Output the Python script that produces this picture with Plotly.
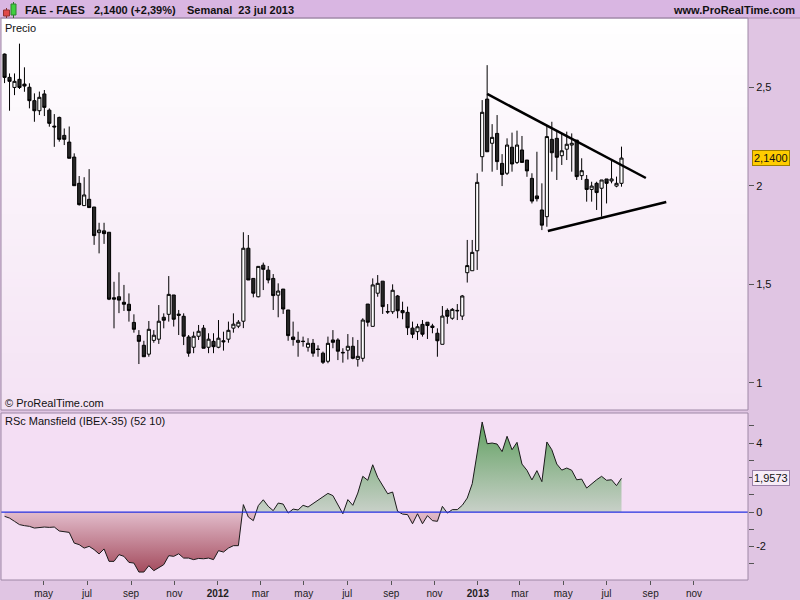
import pandas as pd
import plotly.graph_objects as go

# ---------------- data (weekly candles, FAES, ProRealTime) ----------------
START = "2011-03-07"

OPEN = [
    2.667, 2.549, 2.498, 2.539, 2.515, 2.499, 2.431, 2.380, 2.465, 2.383,
    2.302, 2.346, 2.255, 2.221, 2.145, 2.012, 1.899, 1.931, 1.892, 1.762,
    1.771, 1.764, 1.432, 1.437, 1.409, 1.399, 1.307, 1.241, 1.191, 1.146,
    1.216, 1.222, 1.333, 1.348, 1.446, 1.349, 1.338, 1.233, 1.181, 1.237,
    1.278, 1.181, 1.211, 1.181, 1.214, 1.222, 1.278, 1.288, 1.313, 1.683,
    1.530, 1.437, 1.597, 1.572, 1.530, 1.445, 1.476, 1.370, 1.233, 1.206,
    1.212, 1.181, 1.201, 1.172, 1.151, 1.110, 1.218, 1.218, 1.155, 1.166,
    1.186, 1.120, 1.125, 1.400, 1.287, 1.455, 1.516, 1.362, 1.361, 1.441,
    1.367, 1.358, 1.278, 1.260, 1.297, 1.308, 1.289, 1.252, 1.196, 1.368,
    1.328, 1.368, 1.339, 1.559, 1.569, 1.670, 2.147, 2.439, 2.215, 2.265,
    2.113, 2.063, 2.195, 2.118, 2.181, 2.130, 2.037, 1.948, 1.877, 1.843,
    2.235, 2.240, 2.152, 2.185, 2.206, 2.231, 2.051, 2.032, 1.981, 2.012,
    1.987, 2.034, 2.024, 1.998, 2.012]

HIGH = [
    2.670, 2.569, 2.569, 2.720, 2.600, 2.519, 2.468, 2.477, 2.485, 2.392,
    2.363, 2.350, 2.290, 2.300, 2.164, 2.049, 2.043, 2.084, 1.892, 1.812,
    1.812, 1.764, 1.513, 1.561, 1.497, 1.454, 1.348, 1.268, 1.214, 1.314,
    1.268, 1.395, 1.353, 1.542, 1.446, 1.370, 1.353, 1.243, 1.260, 1.294,
    1.294, 1.252, 1.252, 1.319, 1.260, 1.311, 1.353, 1.319, 1.764, 1.750,
    1.530, 1.591, 1.610, 1.593, 1.552, 1.505, 1.476, 1.370, 1.311, 1.260,
    1.235, 1.227, 1.223, 1.191, 1.159, 1.235, 1.268, 1.227, 1.176, 1.248,
    1.232, 1.218, 1.328, 1.400, 1.530, 1.547, 1.516, 1.400, 1.500, 1.446,
    1.412, 1.387, 1.311, 1.300, 1.319, 1.308, 1.300, 1.277, 1.390, 1.378,
    1.380, 1.400, 1.446, 1.725, 1.725, 2.063, 2.434, 2.611, 2.312, 2.358,
    2.160, 2.240, 2.269, 2.279, 2.252, 2.130, 2.063, 2.172, 2.012, 2.307,
    2.324, 2.273, 2.265, 2.274, 2.265, 2.231, 2.139, 2.054, 2.020, 2.020,
    2.029, 2.034, 2.125, 2.046, 2.198]

LOW = [
    2.520, 2.380, 2.459, 2.490, 2.476, 2.392, 2.324, 2.358, 2.353, 2.299,
    2.197, 2.223, 2.206, 2.139, 2.000, 1.899, 1.899, 1.889, 1.700, 1.657,
    1.705, 1.420, 1.277, 1.354, 1.365, 1.311, 1.255, 1.096, 1.133, 1.133,
    1.204, 1.198, 1.277, 1.311, 1.286, 1.243, 1.192, 1.133, 1.151, 1.218,
    1.176, 1.151, 1.151, 1.176, 1.164, 1.204, 1.255, 1.278, 1.278, 1.522,
    1.434, 1.434, 1.471, 1.505, 1.370, 1.333, 1.350, 1.214, 1.189, 1.133,
    1.184, 1.159, 1.133, 1.133, 1.096, 1.100, 1.176, 1.116, 1.103, 1.119,
    1.120, 1.083, 1.108, 1.286, 1.287, 1.437, 1.350, 1.350, 1.350, 1.328,
    1.323, 1.243, 1.227, 1.218, 1.235, 1.223, 1.252, 1.133, 1.196, 1.300,
    1.320, 1.319, 1.319, 1.509, 1.569, 1.573, 2.071, 2.172, 2.071, 2.080,
    1.998, 2.054, 2.071, 2.110, 2.118, 2.045, 1.910, 1.920, 1.775, 1.792,
    2.071, 2.029, 2.105, 2.130, 2.071, 2.029, 2.029, 1.919, 1.919, 1.877,
    1.843, 1.910, 2.012, 1.992, 1.995]

CLOSE = [
    2.549, 2.529, 2.529, 2.498, 2.505, 2.431, 2.380, 2.448, 2.397, 2.316,
    2.298, 2.235, 2.235, 2.139, 2.000, 1.904, 1.953, 1.889, 1.747, 1.775,
    1.757, 1.425, 1.425, 1.420, 1.399, 1.367, 1.272, 1.211, 1.133, 1.272,
    1.242, 1.313, 1.318, 1.449, 1.323, 1.343, 1.237, 1.151, 1.237, 1.262,
    1.176, 1.222, 1.184, 1.227, 1.209, 1.267, 1.298, 1.308, 1.683, 1.522,
    1.455, 1.591, 1.576, 1.522, 1.443, 1.466, 1.375, 1.240, 1.220, 1.216,
    1.210, 1.201, 1.151, 1.170, 1.105, 1.201, 1.206, 1.161, 1.153, 1.186,
    1.125, 1.135, 1.319, 1.308, 1.497, 1.505, 1.387, 1.360, 1.470, 1.366,
    1.356, 1.280, 1.247, 1.285, 1.247, 1.291, 1.281, 1.214, 1.339, 1.338,
    1.373, 1.366, 1.441, 1.595, 1.662, 2.017, 2.372, 2.172, 2.245, 2.122,
    2.057, 2.206, 2.110, 2.206, 2.118, 2.075, 1.922, 1.934, 1.800, 2.249,
    2.167, 2.144, 2.177, 2.210, 2.215, 2.046, 2.076, 1.981, 1.998, 1.965,
    2.029, 2.012, 2.034, 2.012, 2.140]

RSC = [
    -0.25, -0.35, -0.54, -0.73, -0.79, -0.83, -0.93, -0.89, -0.87, -0.89,
    -0.87, -1.10, -1.12, -1.18, -1.80, -1.89, -2.09, -1.99, -2.18, -2.43,
    -2.14, -2.86, -2.86, -2.47, -2.57, -2.92, -2.96, -3.48, -3.48, -3.11,
    -3.40, -3.21, -3.05, -2.53, -2.57, -2.42, -2.67, -2.67, -2.76, -2.69,
    -2.71, -2.67, -2.76, -2.24, -2.32, -2.09, -1.95, -1.95, 0.43, -0.29,
    -0.50, 0.37, 0.71, 0.33, 0.08, 0.52, 0.46, -0.06, 0.17, 0.12,
    0.39, 0.29, 0.50, 0.70, 0.87, 1.08, 0.95, 0.43, -0.10, 0.72,
    0.39, 1.10, 2.07, 1.84, 2.74, 2.01, 1.57, 1.06, 1.16, 0.04,
    -0.12, -0.15, -0.68, -0.10, -0.68, -0.21, -0.50, -0.54, 0.33, -0.06,
    0.14, 0.14, 0.39, 0.81, 1.64, 3.38, 5.22, 3.96, 4.00, 3.94,
    3.50, 4.39, 3.61, 4.04, 2.78, 2.42, 1.86, 2.40, 1.76, 4.06,
    3.61, 2.78, 2.43, 2.55, 2.42, 1.87, 1.91, 1.39, 1.64, 1.87,
    2.07, 1.84, 1.87, 1.53, 1.9573]

MONTH_TICKS = ["2011-05-01", "2011-07-01", "2011-09-01", "2011-11-01",
               "2012-01-01", "2012-03-01", "2012-05-01", "2012-07-01",
               "2012-09-01", "2012-11-01", "2013-01-01", "2013-03-01",
               "2013-05-01", "2013-07-01", "2013-09-01", "2013-11-01"]
MONTH_LABELS = ["may", "jul", "sep", "nov", "<b>2012</b>", "mar", "may", "jul",
                "sep", "nov", "<b>2013</b>", "mar", "may", "jul", "sep", "nov"]

PRICE_TICKS = [1, 1.5, 2, 2.5]
PRICE_LABELS = ["1", "1,5", "2", "2,5"]
RSC_TICKS = [-3, -2, -1, 0, 1, 2, 3, 4, 5]
RSC_LABELS = ["", "-2", "", "0", "", "", "", "4", ""]

# triangle drawn on the chart (week offset from START, price)
TREND_UP_WEEKS = [97.0, 128.9]
TREND_UP_PRICES = [2.465, 2.039]
TREND_LO_WEEKS = [109.2, 133.0]
TREND_LO_PRICES = [1.770, 1.917]

LAST_PRICE_LABEL = "2,1400"
LAST_RSC_LABEL = "1,9573"

# ---------------- layout geometry ----------------
W, H = 800, 600
ML, MR, MT, MB = 1, 52, 18, 20
PW = W - ML - MR
PH = H - MT - MB
X_RANGE = ["2011-03-02", "2014-01-16"]
Y_RANGE = [0.863, 2.850]
Y2_RANGE = [-3.94, 5.74]


def px(xp):
    return (xp - ML) / PW


def py(yp):
    return (H - MB - yp) / PH


FONT = "Liberation Sans, Arial, sans-serif"
PAPER = "#E0C5E3"

dates = pd.date_range(START, periods=len(OPEN), freq="7D")
start_ts = pd.Timestamp(START)


def wk(w):
    return start_ts + pd.to_timedelta(w * 7, unit="D")


def mix(c0, c1, t):
    return "rgb(%d,%d,%d)" % tuple(round(a + (b - a) * t) for a, b in zip(c0, c1))


fig = go.Figure()

fig.add_trace(go.Candlestick(
    x=dates, open=OPEN, high=HIGH, low=LOW, close=CLOSE,
    increasing=dict(line=dict(color="#000000", width=1), fillcolor="#FFFFFF"),
    decreasing=dict(line=dict(color="#000000", width=1), fillcolor="#262626"),
    whiskerwidth=0, showlegend=False, xaxis="x", yaxis="y"))

fig.add_trace(go.Scatter(
    x=[wk(w) for w in TREND_UP_WEEKS], y=TREND_UP_PRICES, mode="lines",
    line=dict(color="#000000", width=2.5), showlegend=False, hoverinfo="skip",
    xaxis="x", yaxis="y"))
fig.add_trace(go.Scatter(
    x=[wk(w) for w in TREND_LO_WEEKS], y=TREND_LO_PRICES, mode="lines",
    line=dict(color="#000000", width=2.5), showlegend=False, hoverinfo="skip",
    xaxis="x", yaxis="y"))

# RSC Mansfield area
g0, g1 = -3.6, 5.3
z = (0 - g0) / (g1 - g0)
fig.add_trace(go.Scatter(
    x=dates, y=RSC, mode="lines", fill="tozeroy",
    line=dict(color="#1A1A1A", width=1),
    fillgradient=dict(type="vertical",
                      colorscale=[[0, "#A2485A"], [z, "#E2BCCB"],
                                  [z + 0.0005, "#C8D0C8"], [1, "#5E9F5E"]],
                      start=g0, stop=g1),
    showlegend=False, hoverinfo="skip", xaxis="x2", yaxis="y2"))

shapes = []
# price panel vertical gradient (bands, drawn below the candles)
NB = 48
bot, top = (244, 226, 244), (255, 255, 255)
for i in range(NB):
    shapes.append(dict(type="rect", xref="x domain", yref="y domain",
                       x0=0, x1=1, y0=i / NB, y1=(i + 1) / NB + 0.002,
                       fillcolor=mix(bot, top, (i + 0.5) / NB),
                       line=dict(width=0), layer="below"))
shapes += [
    # header bar
    dict(type="rect", xref="paper", yref="paper", x0=px(0), x1=px(800),
         y0=py(18), y1=py(0), fillcolor="#D9B6E2", line=dict(width=0), layer="below"),
    dict(type="line", xref="paper", yref="paper", x0=px(0), x1=px(800),
         y0=py(18), y1=py(18), line=dict(color="#A88CB0", width=1)),
    # indicator panel background
    dict(type="rect", xref="x2 domain", yref="y2 domain", x0=0, x1=1, y0=0, y1=1,
         fillcolor="#F4DEF4", line=dict(width=0), layer="below"),
    # zero line
    dict(type="line", xref="x2 domain", yref="y2", x0=0, x1=1, y0=0, y1=0,
         line=dict(color="#2430E0", width=1.3)),
    # panel borders
    dict(type="rect", xref="x domain", yref="y domain", x0=0, x1=1, y0=0, y1=1,
         line=dict(color="#9E88A6", width=1)),
    dict(type="rect", xref="x2 domain", yref="y2 domain", x0=0, x1=1, y0=0, y1=1,
         line=dict(color="#9E88A6", width=1)),
    # header icon: red and green candles
    dict(type="line", xref="paper", yref="paper", x0=px(6.5), x1=px(6.5),
         y0=py(18), y1=py(8), line=dict(color="#803030", width=1)),
    dict(type="rect", xref="paper", yref="paper", x0=px(3.5), x1=px(9.5),
         y0=py(16), y1=py(10), fillcolor="#E04848", line=dict(color="#903030", width=1)),
    dict(type="line", xref="paper", yref="paper", x0=px(13.5), x1=px(13.5),
         y0=py(18), y1=py(2), line=dict(color="#307030", width=1)),
    dict(type="rect", xref="paper", yref="paper", x0=px(11), x1=px(16),
         y0=py(15), y1=py(4), fillcolor="#40D040", line=dict(color="#308030", width=1)),
]

hdr_y = py(10)
annotations = [
    dict(text="<b>FAE - FAES</b>", x=px(23), y=hdr_y),
    dict(text="<b>2,1400 (+2,39%)</b>", x=px(92), y=hdr_y),
    dict(text="<b>Semanal  23 jul 2013</b>", x=px(185), y=hdr_y),
    dict(text="Precio", x=px(3), y=py(28)),
    dict(text="© ProRealTime.com", x=px(3), y=py(403)),
    dict(text="RSc Mansfield (IBEX-35) (52 10)", x=px(3), y=py(421)),
]
for a in annotations:
    a.update(xref="paper", yref="paper", xanchor="left", yanchor="middle",
             showarrow=False, font=dict(family=FONT, size=11, color="#111111"))
annotations.append(dict(text="<b>www.ProRealTime.com</b>", xref="paper", yref="paper",
                        x=px(797), y=hdr_y, xanchor="right", yanchor="middle",
                        showarrow=False, font=dict(family=FONT, size=11, color="#111111")))
annotations.append(dict(text=LAST_PRICE_LABEL, xref="paper", yref="y", x=px(752),
                        y=CLOSE[-1], xanchor="left", yanchor="middle", showarrow=False,
                        bgcolor="#FFCC00", bordercolor="#A08000", borderwidth=1, borderpad=1,
                        font=dict(family=FONT, size=11, color="#111111")))
annotations.append(dict(text=LAST_RSC_LABEL, xref="paper", yref="y2", x=px(752),
                        y=RSC[-1], xanchor="left", yanchor="middle", showarrow=False,
                        bgcolor="#F7ECF7", bordercolor="#9A80A8", borderwidth=1, borderpad=1,
                        font=dict(family=FONT, size=11, color="#111111")))

fig.update_layout(
    width=W, height=H,
    margin=dict(l=ML, r=MR, t=MT, b=MB, pad=0),
    paper_bgcolor=PAPER, plot_bgcolor="rgba(0,0,0,0)",
    boxgap=0.1,
    showlegend=False,
    font=dict(family=FONT, size=11, color="#111111"),
    xaxis=dict(domain=[0, 1], anchor="y", type="date", range=X_RANGE, matches="x2",
               showticklabels=False, ticks="", showgrid=False, zeroline=False,
               rangeslider=dict(visible=False), showline=False),
    yaxis=dict(domain=[py(410), 1], anchor="x", side="right", range=Y_RANGE,
               tickvals=PRICE_TICKS, ticktext=PRICE_LABELS, ticks="outside",
               ticklen=5, tickcolor="#555555", showgrid=False, zeroline=False,
               tickfont=dict(family=FONT, size=11, color="#111111")),
    xaxis2=dict(domain=[0, 1], anchor="y2", type="date", range=X_RANGE,
                tickvals=MONTH_TICKS, ticktext=MONTH_LABELS, ticks="outside",
                ticklen=4, tickcolor="#555555", showgrid=False, zeroline=False,
                tickfont=dict(family=FONT, size=10, color="#222222")),
    yaxis2=dict(domain=[0, py(413)], anchor="x2", side="right", range=Y2_RANGE,
                tickvals=RSC_TICKS, ticktext=RSC_LABELS, ticks="outside",
                ticklen=5, tickcolor="#555555", showgrid=False, zeroline=False,
                tickfont=dict(family=FONT, size=11, color="#111111")),
    shapes=shapes,
    annotations=annotations,
)

fig.write_html("out.html", config={"displayModeBar": False},
               post_script="document.body.style.margin='0';document.body.style.overflow='hidden';")
